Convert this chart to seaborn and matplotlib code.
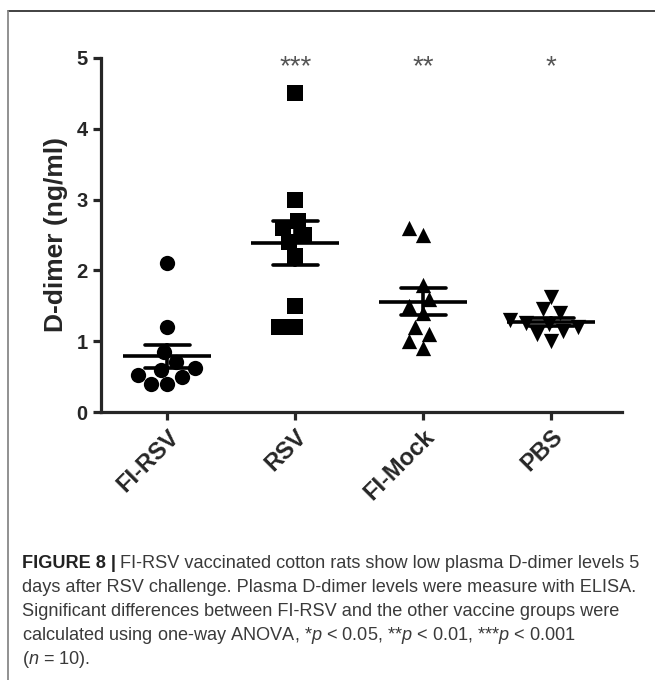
import matplotlib
matplotlib.use("Agg")
import matplotlib.pyplot as plt
from matplotlib.lines import Line2D
import seaborn as sns
import pandas as pd

# values (n = 10 per group)
groups = ["FI-RSV", "RSV", "FI-Mock", "PBS"]
fi_rsv = [2.1, 1.2, 0.85, 0.7, 0.62, 0.6, 0.52, 0.5, 0.4, 0.4]
rsv = [4.5, 3.0, 2.7, 2.6, 2.5, 2.4, 2.2, 1.5, 1.2, 1.2]
fi_mock = [2.6, 2.5, 1.8, 1.6, 1.5, 1.4, 1.2, 1.1, 1.0, 0.9]
pbs = [1.63, 1.45, 1.4, 1.3, 1.26, 1.25, 1.2, 1.15, 1.1, 1.0]
stars = ["", "***", "**", "*"]
markers = ["o", "s", "^", "v"]

df = pd.DataFrame({
    "group": [g for g, v in zip(groups, [fi_rsv, rsv, fi_mock, pbs]) for _ in v],
    "value": fi_rsv + rsv + fi_mock + pbs,
})

sns.set_style("ticks")
plt.rcParams["font.family"] = ["Liberation Sans", "DejaVu Sans"]
plt.rcParams["mathtext.fontset"] = "custom"
plt.rcParams["mathtext.it"] = "Liberation Sans:italic"
plt.rcParams["mathtext.rm"] = "Liberation Sans"

fig = plt.figure(figsize=(6.55, 6.8), dpi=100)
ax = fig.add_axes([0.154, 0.394, 0.795, 0.521])

for g, m in zip(groups, markers):
    sns.swarmplot(data=df[df["group"] == g], x="group", y="value", order=groups,
                  marker=m, size=11, color="black", ax=ax)

# mean +/- SEM
sns.pointplot(data=df, x="group", y="value", order=groups, errorbar="se",
              capsize=0.35, linestyle="none", marker="_", markersize=63,
              markeredgewidth=2.6, color="black",
              err_kws={"linewidth": 2.6}, ax=ax)

for i, s in enumerate(stars):
    ax.text(i, 4.87, s, ha="center", va="center", fontsize=20,
            color="#555555", clip_on=False)

ax.set_ylim(0, 5)
ax.set_xlim(-0.52, 3.55)
ax.set_yticks([0, 1, 2, 3, 4, 5])
ax.set_xlabel("")
ax.set_ylabel("D-dimer (ng/ml)", fontsize=19, fontweight="bold", labelpad=6)
sns.despine(ax=ax)
for sp in ["left", "bottom"]:
    ax.spines[sp].set_linewidth(2.3)
ax.tick_params(width=2.3, length=6)
for t in ax.get_yticklabels():
    t.set_fontweight("bold")
    t.set_fontsize(14.5)
ax.set_xticks(range(len(groups)))
ax.set_xticklabels(groups, rotation=45, ha="right", rotation_mode="anchor",
                   fontsize=17, fontweight="bold")

# frame around figure panel
fig.add_artist(Line2D([8 / 655, 1], [1 - 11 / 680] * 2, color="#333333", lw=1.3))
fig.add_artist(Line2D([8 / 655] * 2, [0, 1 - 11 / 680], color="#888888", lw=1.3))

# caption
cap_color = "#3a3a3a"
x0 = 22 / 655
fs = 13.1
bold = fig.text(x0, 1 - 563 / 680, "FIGURE 8 |", fontsize=fs, fontweight="bold",
                color="#222222", va="center")
fig.canvas.draw()
bb = bold.get_window_extent()
x1 = (bb.x1 + 4) / fig.bbox.width
fig.text(x1, 1 - 563 / 680,
         "FI-RSV vaccinated cotton rats show low plasma D-dimer levels 5",
         fontsize=fs, color=cap_color, va="center")
lines = [
    "days after RSV challenge. Plasma D-dimer levels were measure with ELISA.",
    "Significant differences between FI-RSV and the other vaccine groups were",
    "calculated using one-way ANOVA, *$p$ < 0.05, **$p$ < 0.01, ***$p$ < 0.001",
    "($n$ = 10).",
]
for k, ln in enumerate(lines):
    fig.text(x0, 1 - (587 + 24 * k) / 680, ln, fontsize=fs, color=cap_color,
             va="center")

fig.savefig("out.png", dpi=100)
